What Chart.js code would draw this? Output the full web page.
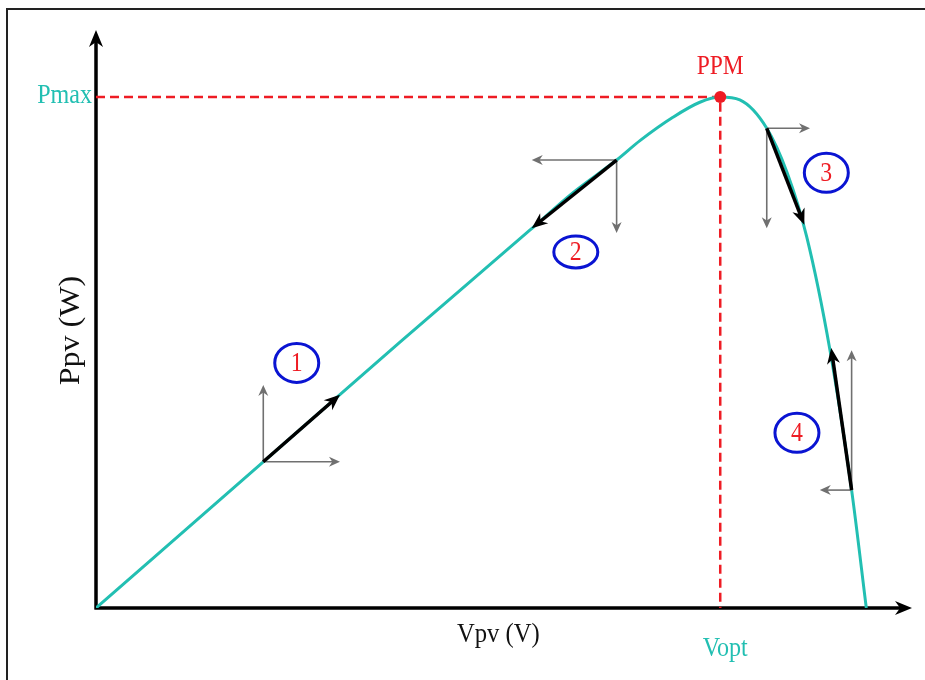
<!DOCTYPE html>
<html>
<head>
<meta charset="utf-8">
<script src="https://cdn.jsdelivr.net/npm/chart.js@4.4.1/dist/chart.umd.min.js"></script>
<style>
  html, body { margin: 0; padding: 0; background: #fff; }
  canvas { display: block; }
</style>
</head>
<body>
<canvas id="pvChart" width="925" height="680"></canvas>
<script>
// P-V curve of the panel (arbitrary units)
const voltage = [0, 20.5, 37.25, 53.2, 58.5, 63.8, 66.7, 70.7, 74.0, 76.5, 78.9, 82.2, 84.7, 87.1, 89.95, 92.6, 94.4];
const power = [0, 25.3, 46.0, 65.4, 71.9, 77.5, 80.9, 84.9, 87.5, 88.4, 87.9, 83.0, 75.3, 64.2, 44.6, 20.4, 0];

// maximum power point and its tick labels
const vOpt = 76.5;
const pMax = 88.4;
const xTickLabels = ["Vopt"];
const yTickLabels = ["Pmax"];
const peakLabel = "PPM";
const xTitle = "Vpv (V)";
const yTitle = "Ppv (W)";

// the four operating cases: start point on the curve, step along the curve,
// horizontal (dV) and vertical (dP) components, and where the number sits
const stepLabels = ["1", "2", "3", "4"];
const stepStartV = [20.5, 63.8, 82.2, 92.6];
const stepStartP = [25.3, 77.5, 83.0, 20.4];
const stepEndV = [29.9, 53.4, 86.8, 90.1];
const stepEndP = [36.9, 65.7, 66.3, 45.0];
const stepDvEnd = [29.9, 53.4, 87.5, 88.7];
const stepDpEnd = [38.6, 64.9, 65.7, 44.6];
const stepLabelV = [24.6, 58.8, 89.5, 85.9];
const stepLabelP = [42.4, 61.6, 75.3, 30.3];

const TEAL = "#22bfb2";
const RED = "#ee1c24";
const SERIF = "'Liberation Serif', 'DejaVu Serif', serif";

function arrowHead(ctx, x1, y1, x2, y2, len, half, color) {
  const a = Math.atan2(y2 - y1, x2 - x1);
  ctx.save();
  ctx.translate(x2, y2);
  ctx.rotate(a);
  ctx.fillStyle = color;
  ctx.beginPath();
  ctx.moveTo(0, 0);
  ctx.lineTo(-len, half);
  ctx.lineTo(-len * 0.7, 0);
  ctx.lineTo(-len, -half);
  ctx.closePath();
  ctx.fill();
  ctx.restore();
}

function arrow(ctx, x1, y1, x2, y2, color, width, len, half) {
  const a = Math.atan2(y2 - y1, x2 - x1);
  ctx.save();
  ctx.strokeStyle = color;
  ctx.lineWidth = width;
  ctx.lineCap = "butt";
  ctx.beginPath();
  ctx.moveTo(x1, y1);
  ctx.lineTo(x2 - Math.cos(a) * len * 0.6, y2 - Math.sin(a) * len * 0.6);
  ctx.stroke();
  ctx.restore();
  arrowHead(ctx, x1, y1, x2, y2, len, half, color);
}

function squeezedText(ctx, text, x, y, size, color, align, sx) {
  ctx.save();
  ctx.translate(x, y);
  ctx.scale(sx, 1);
  ctx.font = size + "px " + SERIF;
  ctx.fillStyle = color;
  ctx.textAlign = align;
  ctx.textBaseline = "middle";
  ctx.fillText(text, 0, 0);
  ctx.restore();
}

// frame, axes with arrows, labels
const decorPlugin = {
  id: "decor",
  beforeDatasetsDraw(chart) {
    const ctx = chart.ctx;
    const xs = chart.scales.x, ys = chart.scales.y;
    const x0 = xs.getPixelForValue(0), y0 = ys.getPixelForValue(0);
    const xEnd = xs.getPixelForValue(xs.max), yEnd = ys.getPixelForValue(ys.max);

    // picture frame
    ctx.save();
    ctx.strokeStyle = "#222";
    ctx.lineWidth = 2;
    ctx.beginPath();
    ctx.moveTo(7, chart.height + 2);
    ctx.lineTo(7, 9);
    ctx.lineTo(chart.width + 2, 9);
    ctx.stroke();
    ctx.restore();

    // axes
    ctx.save();
    ctx.strokeStyle = "#000";
    ctx.lineWidth = 3.5;
    ctx.beginPath();
    ctx.moveTo(x0, y0 + 1.5);
    ctx.lineTo(x0, yEnd + 12);
    ctx.moveTo(x0 - 1.5, y0);
    ctx.lineTo(xEnd - 12, y0);
    ctx.stroke();
    ctx.restore();
    arrowHead(ctx, x0, y0, x0, yEnd, 17, 7, "#000");
    arrowHead(ctx, x0, y0, xEnd, y0, 17, 7, "#000");

    // tick labels and titles
    squeezedText(ctx, yTickLabels[0], x0 - 4, ys.getPixelForValue(pMax) - 1, 28, TEAL, "right", 0.86);
    squeezedText(ctx, xTickLabels[0], xs.getPixelForValue(vOpt) + 5, y0 + 41, 28, TEAL, "center", 0.86);
    squeezedText(ctx, xTitle, xs.getPixelForValue(49.3), y0 + 27, 28, "#111", "center", 0.88);
    squeezedText(ctx, peakLabel, xs.getPixelForValue(vOpt), ys.getPixelForValue(pMax) - 30, 28, RED, "center", 0.84);

    ctx.save();
    ctx.translate(71, ys.getPixelForValue(48));
    ctx.rotate(-Math.PI / 2);
    ctx.scale(1, 0.9);
    ctx.font = "32px " + SERIF;
    ctx.fillStyle = "#111";
    ctx.textAlign = "center";
    ctx.textBaseline = "middle";
    ctx.fillText(yTitle, 0, 0);
    ctx.restore();
  },
  afterDatasetsDraw(chart) {
    const ctx = chart.ctx;
    const xs = chart.scales.x, ys = chart.scales.y;
    stepLabels.forEach((lab, i) => {
      const sx = xs.getPixelForValue(stepStartV[i]);
      const sy = ys.getPixelForValue(stepStartP[i]);
      // dV and dP components (thin grey)
      arrow(ctx, sx, sy, xs.getPixelForValue(stepDvEnd[i]), sy, "#707070", 1.6, 11, 5);
      arrow(ctx, sx, sy, sx, ys.getPixelForValue(stepDpEnd[i]), "#707070", 1.6, 11, 5);
      // step along the curve (thick black)
      arrow(ctx, sx, sy, xs.getPixelForValue(stepEndV[i]), ys.getPixelForValue(stepEndP[i]), "#000", 3.5, 16, 6.5);

      // numbered ellipse
      const cx = xs.getPixelForValue(stepLabelV[i]);
      const cy = ys.getPixelForValue(stepLabelP[i]);
      ctx.save();
      ctx.strokeStyle = "#0a14d2";
      ctx.lineWidth = 3;
      ctx.beginPath();
      ctx.ellipse(cx, cy, 22, i === 1 ? 16 : 19.5, 0, 0, Math.PI * 2);
      ctx.stroke();
      ctx.restore();
      squeezedText(ctx, lab, cx, cy + 1, 28, RED, "center", 0.85);
    });
  }
};

new Chart(document.getElementById("pvChart"), {
  type: "scatter",
  data: {
    datasets: [
      {
        label: "MPP",
        data: [{ x: vOpt, y: pMax }],
        pointRadius: 6,
        pointBackgroundColor: RED,
        pointBorderWidth: 0,
        order: 0
      },
      {
        label: "P-V",
        data: voltage.map((v, i) => ({ x: v, y: power[i] })),
        showLine: true,
        borderColor: TEAL,
        borderWidth: 3,
        pointRadius: 0,
        cubicInterpolationMode: "monotone",
        order: 1
      },
      {
        label: "guides",
        data: [{ x: 0, y: pMax }, { x: vOpt, y: pMax }, { x: vOpt, y: 0 }],
        showLine: true,
        borderColor: RED,
        borderWidth: 2.5,
        borderDash: [9, 5],
        pointRadius: 0,
        tension: 0,
        order: 2
      }
    ]
  },
  options: {
    responsive: false,
    animation: false,
    layout: { padding: { left: 96, right: 13, top: 30, bottom: 72 } },
    scales: {
      x: { type: "linear", min: 0, max: 100, display: false },
      y: { type: "linear", min: 0, max: 100, display: false }
    },
    plugins: {
      legend: { display: false },
      tooltip: { enabled: false }
    }
  },
  plugins: [decorPlugin]
});
</script>
</body>
</html>
